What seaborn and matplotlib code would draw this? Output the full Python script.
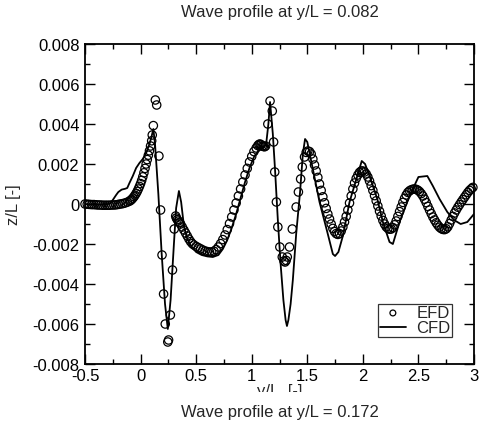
import numpy as np
import pandas as pd
import matplotlib
matplotlib.use("Agg")
import matplotlib.pyplot as plt
import seaborn as sns
from matplotlib.ticker import MultipleLocator, FixedLocator
from matplotlib.transforms import Bbox, TransformedBbox

# ---------------- data ----------------
efd_x = [-0.50, -0.48, -0.46, -0.44, -0.42, -0.40, -0.38, -0.36, -0.34, -0.32,
         -0.30, -0.28, -0.26, -0.24, -0.22, -0.20, -0.18, -0.16, -0.14, -0.12,
         -0.10, -0.09, -0.08, -0.07, -0.06, -0.05, -0.04, -0.03, -0.02, -0.01,
         0.00, 0.01, 0.02, 0.03, 0.04, 0.05, 0.06, 0.07, 0.08, 0.09,
         0.10, 0.105, 0.115, 0.133, 0.145, 0.165, 0.180, 0.193, 0.207, 0.222,
         0.245, 0.252, 0.268, 0.287, 0.303, 0.316, 0.322, 0.330, 0.340, 0.350,
         0.360, 0.375, 0.390, 0.405, 0.420, 0.435, 0.450, 0.465, 0.480, 0.500,
         0.520, 0.540, 0.560, 0.580, 0.600, 0.620, 0.640, 0.660, 0.680, 0.700,
         0.720, 0.740, 0.760, 0.780, 0.800, 0.820, 0.840, 0.860, 0.880, 0.900,
         0.920, 0.940, 0.960, 0.980, 1.000, 1.020, 1.040, 1.055, 1.065, 1.075,
         1.085, 1.095, 1.105, 1.115, 1.125, 1.145, 1.165, 1.185, 1.197, 1.207,
         1.222, 1.235, 1.253, 1.275, 1.290, 1.300, 1.310, 1.320, 1.340, 1.365,
         1.400, 1.420, 1.440, 1.455, 1.475, 1.490, 1.505, 1.520, 1.535, 1.550,
         1.565, 1.580, 1.595, 1.610, 1.625, 1.640, 1.655, 1.670, 1.685, 1.700,
         1.715, 1.730, 1.745, 1.760, 1.775, 1.790, 1.805, 1.820, 1.835, 1.850,
         1.865, 1.880, 1.895, 1.910, 1.925, 1.940, 1.955, 1.970, 1.985, 2.000,
         2.015, 2.030, 2.045, 2.060, 2.075, 2.090, 2.105, 2.120, 2.135, 2.150,
         2.165, 2.180, 2.195, 2.210, 2.225, 2.240, 2.255, 2.270, 2.285, 2.300,
         2.315, 2.330, 2.345, 2.360, 2.375, 2.390, 2.405, 2.420, 2.435, 2.450,
         2.465, 2.480, 2.495, 2.510, 2.525, 2.540, 2.555, 2.570, 2.585, 2.600,
         2.615, 2.630, 2.645, 2.660, 2.675, 2.690, 2.705, 2.720, 2.735, 2.750,
         2.765, 2.780, 2.795, 2.810, 2.825, 2.840, 2.855, 2.870, 2.885, 2.900,
         2.915, 2.930, 2.945, 2.960, 2.975, 2.990]
efd_z = [0.00000, -0.00001, -0.00002, -0.00003, -0.00003, -0.00004, -0.00005, -0.00005, -0.00006, -0.00006,
         -0.00006, -0.00006, -0.00005, -0.00005, -0.00004, -0.00002, 0.00000, 0.00002, 0.00005, 0.00009,
         0.00014, 0.00018, 0.00023, 0.00029, 0.00036, 0.00044, 0.00053, 0.00063, 0.00075, 0.00088,
         0.00102, 0.00118, 0.00136, 0.00156, 0.00178, 0.00200, 0.00222, 0.00244, 0.00266, 0.00290,
         0.00316, 0.00345, 0.00392, 0.00520, 0.00495, 0.00240, -0.00030, -0.00255, -0.00450, -0.00600,
         -0.00690, -0.00680, -0.00555, -0.00330, -0.00125, -0.00060, -0.00070, -0.00078, -0.00085, -0.00092,
         -0.00100, -0.00115, -0.00130, -0.00145, -0.00160, -0.00175, -0.00188, -0.00198, -0.00205, -0.00212,
         -0.00218, -0.00224, -0.00230, -0.00235, -0.00238, -0.00240, -0.00240, -0.00236, -0.00228, -0.00215,
         -0.00198, -0.00178, -0.00155, -0.00128, -0.00098, -0.00065, -0.00030, 0.00005, 0.00040, 0.00075,
         0.00110, 0.00145, 0.00178, 0.00210, 0.00238, 0.00262, 0.00280, 0.00292, 0.00298, 0.00300,
         0.00296, 0.00290, 0.00288, 0.00286, 0.00290, 0.00400, 0.00515, 0.00465, 0.00310, 0.00160,
         0.00010, -0.00115, -0.00215, -0.00265, -0.00285, -0.00290, -0.00282, -0.00265, -0.00215, -0.00125,
         -0.00015, 0.00060, 0.00125, 0.00185, 0.00235, 0.00258, 0.00265, 0.00262, 0.00250, 0.00225,
         0.00195, 0.00165, 0.00133, 0.00100, 0.00068, 0.00036, 0.00006, -0.00022, -0.00050, -0.00075,
         -0.00100, -0.00122, -0.00138, -0.00148, -0.00152, -0.00148, -0.00135, -0.00115, -0.00090, -0.00062,
         -0.00030, 0.00005, 0.00040, 0.00075, 0.00105, 0.00128, 0.00145, 0.00158, 0.00165, 0.00165,
         0.00160, 0.00150, 0.00135, 0.00115, 0.00092, 0.00068, 0.00042, 0.00016, -0.00010, -0.00036,
         -0.00060, -0.00082, -0.00100, -0.00114, -0.00122, -0.00126, -0.00125, -0.00118, -0.00104, -0.00085,
         -0.00062, -0.00038, -0.00015, 0.00008, 0.00028, 0.00045, 0.00058, 0.00066, 0.00071, 0.00074,
         0.00075, 0.00073, 0.00069, 0.00062, 0.00052, 0.00040, 0.00024, 0.00007, -0.00012, -0.00030,
         -0.00048, -0.00065, -0.00080, -0.00094, -0.00106, -0.00116, -0.00123, -0.00127, -0.00128, -0.00124,
         -0.00114, -0.00098, -0.00080, -0.00062, -0.00045, -0.00030, -0.00016, -0.00003, 0.00010, 0.00022,
         0.00034, 0.00046, 0.00058, 0.00068, 0.00076, 0.00083]

cfd_x = [-0.50, -0.45, -0.40, -0.35, -0.30, -0.27, -0.25, -0.22, -0.20, -0.17,
         -0.14, -0.12, -0.10, -0.07, -0.04, -0.01, 0.02, 0.05, 0.08, 0.10,
         0.115, 0.13, 0.16, 0.19, 0.22, 0.245, 0.27, 0.30, 0.32, 0.345,
         0.365, 0.39, 0.42, 0.46, 0.50, 0.55, 0.60, 0.65, 0.70, 0.74,
         0.78, 0.82, 0.86, 0.90, 0.94, 0.98, 1.02, 1.06, 1.10, 1.13,
         1.15, 1.165, 1.19, 1.21, 1.235, 1.26, 1.285, 1.305, 1.317, 1.33,
         1.35, 1.37, 1.40, 1.435, 1.46, 1.48, 1.50, 1.55, 1.61, 1.68,
         1.73, 1.75, 1.78, 1.82, 1.88, 1.95, 1.99, 2.02, 2.06, 2.13,
         2.18, 2.24, 2.27, 2.33, 2.42, 2.50, 2.58, 2.63, 2.69, 2.76,
         2.82, 2.88, 2.94, 3.00]
cfd_z = [0.00000, -0.00002, -0.00003, -0.00004, -0.00002, 0.00005, 0.00020, 0.00045, 0.00060, 0.00072,
         0.00076, 0.00080, 0.00105, 0.00140, 0.00180, 0.00205, 0.00225, 0.00255, 0.00300, 0.00340,
         0.00375, 0.00300, 0.00050, -0.00250, -0.00500, -0.00625, -0.00480, -0.00200, -0.00020, 0.00065,
         0.00010, -0.00110, -0.00175, -0.00215, -0.00240, -0.00255, -0.00262, -0.00265, -0.00255, -0.00225,
         -0.00180, -0.00120, -0.00050, 0.00030, 0.00110, 0.00180, 0.00235, 0.00265, 0.00280, 0.00300,
         0.00400, 0.00510, 0.00350, 0.00170, -0.00080, -0.00300, -0.00480, -0.00580, -0.00610, -0.00580,
         -0.00500, -0.00380, -0.00150, 0.00060, 0.00250, 0.00325, 0.00310, 0.00175, 0.00010, -0.00140,
         -0.00250, -0.00260, -0.00240, -0.00160, 0.00010, 0.00140, 0.00215, 0.00200, 0.00140, 0.00025,
         -0.00090, -0.00190, -0.00200, -0.00090, 0.00040, 0.00135, 0.00140, 0.00090, 0.00025, -0.00040,
         -0.00080, -0.00100, -0.00090, -0.00050]

x_ticks = [-0.5, 0, 0.5, 1, 1.5, 2, 2.5, 3]
x_tick_labels = ["-0.5", "0", "0.5", "1", "1.5", "2", "2.5", "3"]
y_ticks = [-0.008, -0.006, -0.004, -0.002, 0, 0.002, 0.004, 0.006, 0.008]
y_tick_labels = ["-0.008", "-0.006", "-0.004", "-0.002", "0", "0.002", "0.004", "0.006", "0.008"]

title_top = "Wave profile at y/L = 0.082"
title_bottom = "Wave profile at y/L = 0.172"
x_label = "y/L  [-]"
y_label = "z/L [-]"

efd = pd.DataFrame({"x": efd_x, "z": efd_z})
cfd = pd.DataFrame({"x": cfd_x, "z": cfd_z})

# ---------------- style ----------------
sns.set_style("ticks")
plt.rcParams["font.family"] = ["Liberation Sans", "DejaVu Sans"]

W, H = 481, 427
fig = plt.figure(figsize=(W / 100, H / 100), dpi=100)
ax = fig.add_axes([85 / W, 1 - 365 / H, (474 - 85) / W, (365 - 45) / H])

sns.lineplot(data=cfd, x="x", y="z", ax=ax, color="black", linewidth=1.3,
             estimator=None, sort=False, label="CFD", zorder=3)
sns.scatterplot(data=efd, x="x", y="z", ax=ax, marker="o", s=36,
                facecolors="none", edgecolors="black", linewidth=0.9,
                label="EFD", zorder=4, clip_on=False)

ax.set_xlim(-0.5, 3)
ax.set_ylim(-0.008, 0.008)
ax.xaxis.set_major_locator(FixedLocator(x_ticks))
ax.set_xticklabels(x_tick_labels)
ax.yaxis.set_major_locator(FixedLocator(y_ticks))
ax.set_yticklabels(y_tick_labels)
ax.xaxis.set_minor_locator(MultipleLocator(0.25))
ax.yaxis.set_minor_locator(MultipleLocator(0.001))

ax.tick_params(which="both", direction="in", top=True, right=True,
               colors="black", width=1.0, labelsize=12)
ax.tick_params(which="major", length=7)
ax.tick_params(which="minor", length=3.5)
ax.tick_params(axis="y", pad=4)
ax.tick_params(axis="x", pad=3)
for sp in ax.spines.values():
    sp.set_visible(True)
    sp.set_linewidth(1.3)
    sp.set_color("black")

ax.set_xlabel(x_label, fontsize=12, labelpad=0)
ax.set_ylabel(y_label, fontsize=12, labelpad=8)

# xlabel is cut off by the panel below in the reference
lbl = ax.xaxis.label
lbl.set_clip_box(TransformedBbox(Bbox([[0, 34 / H], [1, 1]]), fig.transFigure))
lbl.set_clip_on(True)

fig.text(280 / W, 1 - 12 / H, title_top, ha="center", va="center", fontsize=12)
fig.text(280 / W, 1 - 413 / H, title_bottom, ha="center", va="center", fontsize=12)

# legend order EFD then CFD
handles, labels = ax.get_legend_handles_labels()
order = [labels.index("EFD"), labels.index("CFD")]
leg = ax.legend([handles[i] for i in order], [labels[i] for i in order],
                loc="lower right", bbox_to_anchor=((452 - 85) / (474 - 85), (365 - 338) / (365 - 45)),
                frameon=True, fancybox=False, fontsize=12, borderpad=0.1,
                handlelength=1.6, handletextpad=0.6, labelspacing=0.0,
                borderaxespad=0.0, markerscale=0.7)
leg.get_frame().set_edgecolor("black")
leg.get_frame().set_linewidth(0.9)

fig.savefig("out.png", dpi=100)
